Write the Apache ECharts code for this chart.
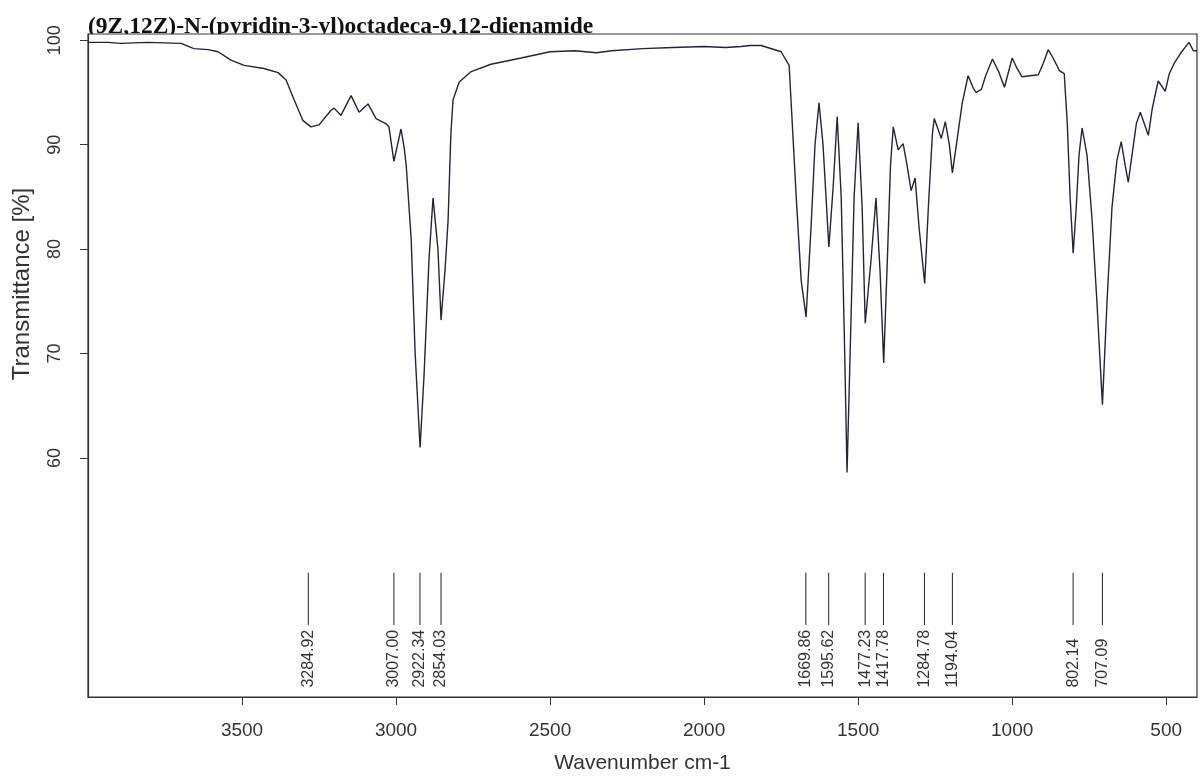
<!DOCTYPE html>
<html>
<head>
<meta charset="utf-8">
<script src="https://cdn.jsdelivr.net/npm/echarts@6/dist/echarts.min.js"></script>
<style>html,body{margin:0;padding:0;background:#fff}#c{width:1200px;height:776px}</style>
</head>
<body>
<div id="c"></div>
<script>
const titleText = "(9Z,12Z)-N-(pyridin-3-yl)octadeca-9,12-dienamide";
const xTicks = [3500, 3000, 2500, 2000, 1500, 1000, 500];
const yTicks = [60, 70, 80, 90, 100];
const wavenumber = [
 4000,3935,3893,3805,3698,3656,3610,3578,3536,3493,3429,3383,3357,3331,3302,3276,3250,3211,3201,3179,3146,3120,3091,3065,3032,3023,3007,2984,2974,
 2967,2951,2938,2922,2909,2893,2880,2864,2854,2841,2831,2822,2815,2795,2756,2692,2594,2500,2420,2350,2300,2200,2100,2000,1930,1880,1850,1815,
 1750,1724,1701,1685,1669,1653,1640,1627,1614,1595,1581,1568,1555,1545,1536,1526,1513,1500,1487,1477,1458,1442,1429,1417,1404,1395,1386,1370,1354,1341,1328,1315,1302,1284,1272,1259,1253,1230,1217,1204,1194,1181,1162,1143,1126,1117,1100,1086,1064,1044,1025,1000,984,968,942,915,899,883,867,847,831,821,812,802,792,783,773,757,741,725,707,692,676,660,646,633,623,611,597,584,571,558,545,526,503,490,474,452,426,412,400
];
const transmittance = [
 99.8,99.8,99.7,99.8,99.7,99.2,99.1,98.9,98.1,97.6,97.3,96.9,96.2,94.3,92.3,91.7,91.9,93.3,93.5,92.8,94.7,93.1,93.9,92.5,92.0,91.7,88.4,91.5,89.8,
 88.0,81.0,70.0,61.0,68.0,79.0,84.9,80.0,73.2,78.0,82.8,91.1,94.3,96.0,97.0,97.7,98.3,98.9,99.0,98.8,99.0,99.2,99.3,99.4,99.3,99.4,99.5,99.5,
 98.9,97.6,85.0,77.0,73.5,82.0,90.0,94.0,90.0,80.2,86.0,92.7,85.0,72.0,58.6,70.0,85.0,92.1,84.0,72.9,79.0,84.9,78.0,69.1,80.0,88.0,91.7,89.5,90.1,88.0,85.6,86.8,82.0,76.7,84.0,91.0,92.5,90.6,92.2,90.0,87.3,90.0,94.0,96.6,95.4,95.0,95.3,96.6,98.2,97.0,95.5,98.3,97.3,96.5,96.6,96.7,97.8,99.1,98.3,97.1,96.8,92.0,85.0,79.6,84.0,89.0,91.6,89.0,83.0,75.0,65.1,75.0,84.0,88.5,90.3,88.0,86.4,89.0,92.0,93.1,92.0,90.9,93.5,96.1,95.1,96.8,97.8,98.8,99.8,99.0,99.0
];
const peakPositions = [3284.92, 3007.00, 2922.34, 2854.03, 1669.86, 1595.62, 1477.23, 1417.78, 1284.78, 1194.04, 802.14, 707.09];

const spectrum = wavenumber.map((w, i) => [w, transmittance[i]]);
const peaks = peakPositions.map(p => [p]);

const chart = echarts.init(document.getElementById('c'), null, {renderer: 'canvas'});
const axisColor = '#333';
const labelFont = 'Liberation Sans';
chart.setOption({
  animation: false,
  backgroundColor: '#fff',
  grid: {left: 88, right: 3, top: 34, bottom: 79, show: true, backgroundColor: '#fff', borderColor: axisColor, borderWidth: 1.2,
    containLabel: false, outerBoundsMode: 'none'},
  xAxis: {
    type: 'value', inverse: true, min: 400, max: 4000,
    name: 'Wavenumber cm-1', nameLocation: 'middle', nameGap: 56,
    nameTextStyle: {fontFamily: labelFont, fontSize: 21, color: axisColor},
    axisLine: {show: true, lineStyle: {color: axisColor, width: 1.2}},
    axisTick: {show: true, length: 8, customValues: xTicks, lineStyle: {color: axisColor}},
    axisLabel: {customValues: xTicks, margin: 24, fontFamily: labelFont, fontSize: 19, color: axisColor,
      formatter: v => String(v)},
    splitLine: {show: false}
  },
  yAxis: {
    type: 'value', min: 37.1, max: 100.6,
    axisLine: {show: true, lineStyle: {color: axisColor, width: 1.2}},
    axisTick: {show: true, length: 8, customValues: yTicks, lineStyle: {color: axisColor}},
    axisLabel: {customValues: yTicks, rotate: 90, margin: 24, fontFamily: labelFont, fontSize: 18, color: axisColor,
      formatter: v => String(v)},
    splitLine: {show: false}
  },
  graphic: [{
    type: 'text', x: 22, y: 284, rotation: Math.PI / 2,
    style: {text: 'Transmittance [%]', font: '24px "Liberation Sans"', fill: axisColor, textAlign: 'center', textVerticalAlign: 'middle'}
  }, {
    type: 'text', x: 88, y: 39, z: -10,
    style: {text: titleText, font: 'bold 23.5px "Liberation Serif"', fill: '#111', textAlign: 'left', textVerticalAlign: 'bottom'}
  }],
  series: [{
    type: 'line', data: spectrum, showSymbol: false, symbol: 'none',
    lineStyle: {color: '#23233d', width: 1.4}, z: 3
  }, {
    type: 'custom', data: peaks, z: 2,
    renderItem: function (params, api) {
      const x = api.value(0);
      const top = api.coord([x, 49.0]);
      const bot = api.coord([x, 44.0]);
      const txt = api.coord([x, 38.0]);
      return {
        type: 'group',
        children: [{
          type: 'line',
          shape: {x1: top[0], y1: top[1], x2: bot[0], y2: bot[1]},
          style: {stroke: '#222', lineWidth: 1}
        }, {
          type: 'text', x: txt[0], y: txt[1], rotation: Math.PI / 2,
          style: {text: x.toFixed(2), font: '16px "Liberation Sans"', fill: '#333', textAlign: 'left', textVerticalAlign: 'middle'}
        }]
      };
    }
  }]
});
</script>
</body>
</html>
